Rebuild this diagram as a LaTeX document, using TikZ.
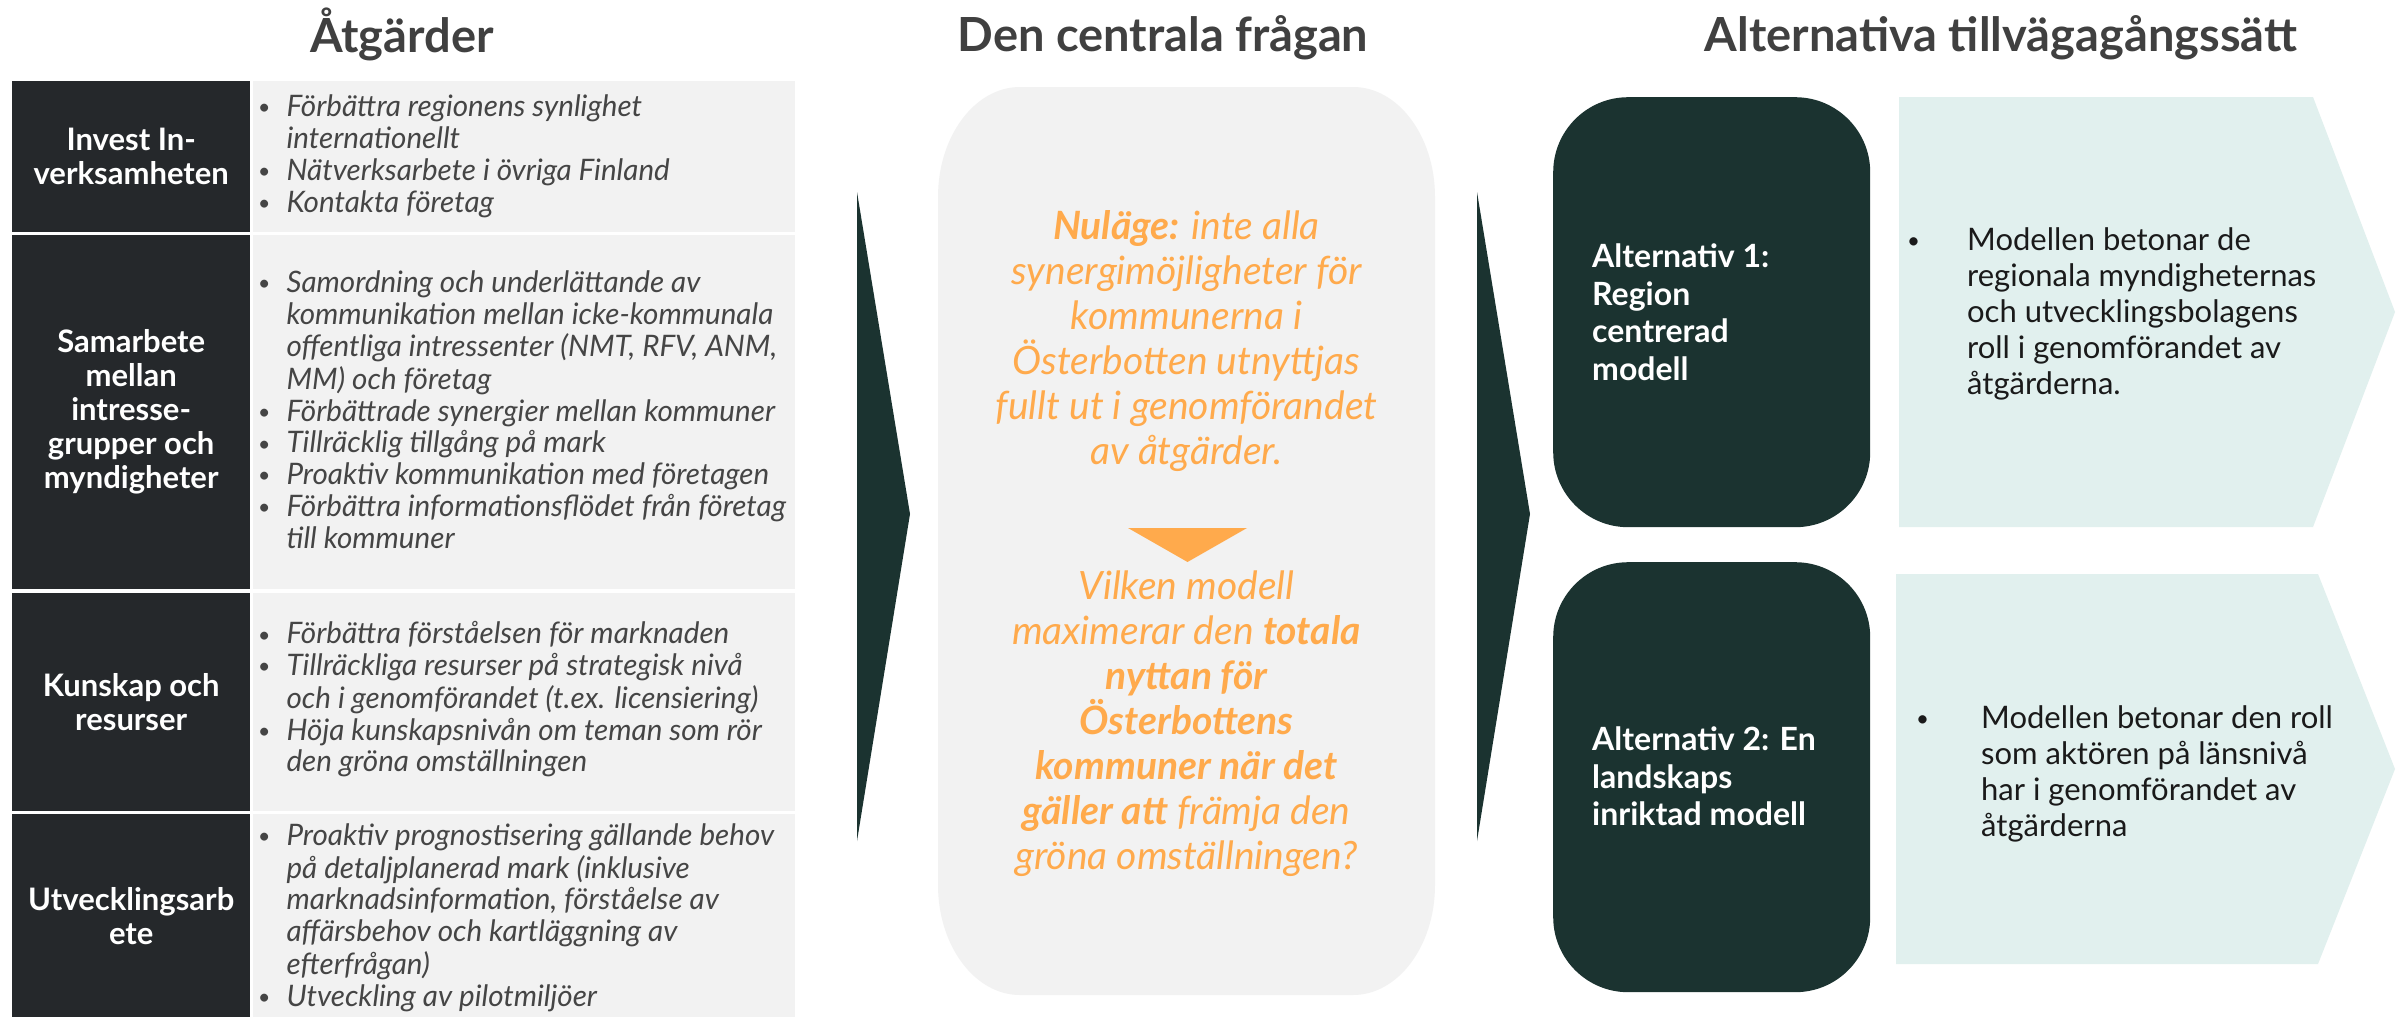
\documentclass[tikz,border=0pt]{standalone}
\usepackage{fontspec}
\setmainfont{Lato}
\definecolor{titlegray}{HTML}{404040}
\definecolor{cellDark}{HTML}{25282B}
\definecolor{cellLight}{HTML}{F2F2F2}
\definecolor{bodyGray}{HTML}{454545}
\definecolor{qorange}{HTML}{FFAA4C}
\definecolor{dgreen}{HTML}{1B3330}
\definecolor{lteal}{HTML}{E1F0EE}
\definecolor{rtext}{HTML}{1A1A1A}
\newcommand{\blist}[2]{\begin{tabular}{@{}l@{\hspace{#1}}l@{}}#2\end{tabular}}
\newcommand{\bul}{\raisebox{0.06em}{\scalebox{0.72}{•}}}
\begin{document}
\begin{tikzpicture}[x=1pt,y=-1pt]
\tikzset{
  titletext/.style={font=\fontsize{47}{56}\selectfont\bfseries, text=titlegray, inner sep=0},
  darkcell/.style={fill=cellDark, anchor=north west, minimum width=238pt, inner sep=0, text=white, align=center, font=\fontsize{31}{34}\selectfont\bfseries},
  lightcell/.style={fill=cellLight, anchor=north west, minimum width=542pt, inner sep=0},
  bodytext/.style={font=\fontsize{29.6}{31.8}\selectfont\itshape, text=bodyGray, inner sep=0, anchor=west, align=left},
  qtext/.style={font=\fontsize{39}{45}\selectfont\itshape, text=qorange, inner sep=0, align=center},
  altbox/.style={fill=dgreen, rounded corners=75pt, anchor=north west, minimum width=317pt, minimum height=430pt, inner sep=0},
  alttext/.style={font=\fontsize{32}{37.5}\selectfont\bfseries, text=white, inner sep=0, anchor=west, align=left},
  righttext/.style={font=\fontsize{31}{36}\selectfont, text=rtext, inner sep=0, anchor=west, align=left}
}
\useasboundingbox (0,0) rectangle (2407,1017);
\fill[white] (0,0) rectangle (2407,1017);

% titles
\node[titletext] (t1) at (402,34) {Åtgärder};
\node[titletext] (t2) at (1163,38) {Den centrala frågan};
\node[titletext] (t3) at (2001,38) {Alternativa tillvägagångssätt};

% left table
\node[darkcell, minimum height=151pt] (d1) at (12,81) {Invest In-\\verksamheten};
\node[lightcell, minimum height=151pt] (l1) at (253,81) {};
\node[darkcell, minimum height=354pt] (d2) at (12,235) {Samarbete\\mellan\\intresse-\\grupper och\\myndigheter};
\node[lightcell, minimum height=354pt] (l2) at (253,235) {};
\node[darkcell, minimum height=218pt] (d3) at (12,593) {Kunskap och\\resurser};
\node[lightcell, minimum height=218pt] (l3) at (253,593) {};
\node[darkcell, minimum height=203pt] (d4) at (12,814) {Utvecklingsarb\\ete};
\node[lightcell, minimum height=203pt] (l4) at (253,814) {};

\node[bodytext] (l1t) at (258,158) {\blist{16pt}{%
\bul & Förbättra regionens synlighet\\
  & internationellt\\
\bul & Nätverksarbete i övriga Finland\\
\bul & Kontakta företag}};
\node[bodytext] (l2t) at (258,414) {\blist{16pt}{%
\bul & Samordning och underlättande av\\
  & kommunikation mellan icke-kommunala\\
  & offentliga intressenter (NMT, RFV, ANM,\\
  & MM) och företag\\
\bul & Förbättrade synergier mellan kommuner\\
\bul & Tillräcklig tillgång på mark\\
\bul & Proaktiv kommunikation med företagen\\
\bul & Förbättra informationsflödet från företag\\
  & till kommuner}};
\node[bodytext] (l3t) at (258,701.5) {\blist{16pt}{%
\bul & Förbättra förståelsen för marknaden\\
\bul & Tillräckliga resurser på strategisk nivå\\
  & och i genomförandet (t.ex. licensiering)\\
\bul & Höja kunskapsnivån om teman som rör\\
  & den gröna omställningen}};
\node[bodytext] (l4t) at (258,919.5) {\blist{16pt}{%
\bul & Proaktiv prognostisering gällande behov\\
  & på detaljplanerad mark (inklusive\\
  & marknadsinformation, förståelse av\\
  & affärsbehov och kartläggning av\\
  & efterfrågan)\\
\bul & Utveckling av pilotmiljöer}};

% arrows
\fill[dgreen] (857,192) coordinate (la1) -- (910,514) coordinate (la2) -- (857,841) coordinate (la3) -- cycle;
\fill[dgreen] (1477,192) coordinate (ra1) -- (1530,514) coordinate (ra2) -- (1477,841) coordinate (ra3) -- cycle;

% central box
\fill[cellLight] (1020,87) -- (1353,87) .. controls (1398,87) and (1435,136) .. (1435,197)
  -- (1435,885) .. controls (1435,946) and (1398,995) .. (1353,995)
  -- (1020,995) .. controls (975,995) and (938,946) .. (938,885)
  -- (938,197) .. controls (938,136) and (975,87) .. (1020,87) -- cycle;
\node[qtext] (q1) at (1186.5,341.5) {\textbf{Nuläge:} inte alla\\synergimöjligheter för\\kommunerna i\\Österbotten utnyttjas\\fullt ut i genomförandet\\av åtgärder.};
\fill[qorange] (1128,528) coordinate (tr1) -- (1247,528) coordinate (tr2) -- (1187.5,562) coordinate (tr3) -- cycle;
\node[qtext] (q2) at (1186.5,724) {Vilken modell\\maximerar den \textbf{totala}\\\textbf{nyttan för}\\\textbf{Österbottens}\\\textbf{kommuner när det}\\\textbf{gäller att} främja den\\gröna omställningen?};

% right side
\node[altbox] (a1) at (1553,97) {};
\node[alttext] (a1t) at (1592,312) {Alternativ 1:\\Region\\centrerad\\modell};
\node[altbox] (a2) at (1553,562) {};
\node[alttext] (a2t) at (1592,776.5) {Alternativ 2: En\\landskaps\\inriktad modell};

\fill[lteal] (1899,97) -- (2313,97) -- (2395,312) -- (2313,527) -- (1899,527) -- cycle;
\fill[lteal] (1896,574) -- (2318,574) -- (2395,769) -- (2318,964) -- (1896,964) -- cycle;

\node[righttext] (r1) at (1907,315) {\blist{47pt}{%
\bul & Modellen betonar de\\
  & regionala myndigheternas\\
  & och utvecklingsbolagens\\
  & roll i genomförandet av\\
  & åtgärderna.}};
\node[righttext] (r2) at (1916,775) {\blist{52pt}{%
\bul & Modellen betonar den roll\\
  & som aktören på länsnivå\\
  & har i genomförandet av\\
  & åtgärderna}};
\end{tikzpicture}
\end{document}
